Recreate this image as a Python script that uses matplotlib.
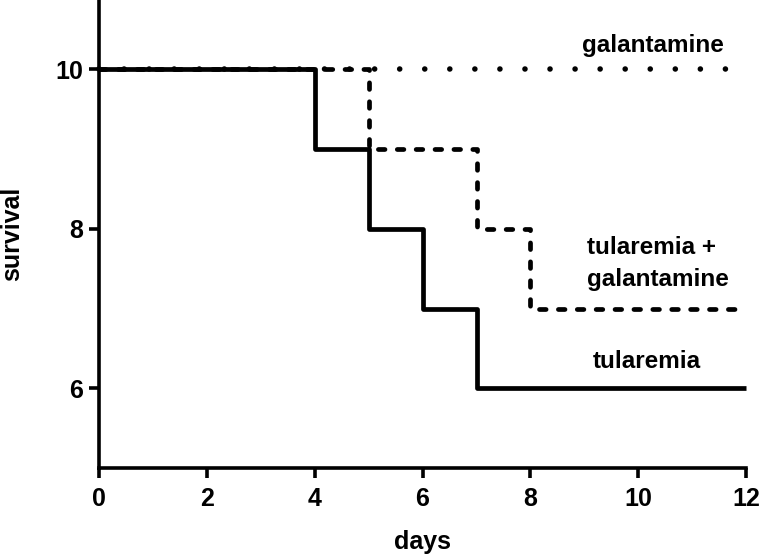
import matplotlib
matplotlib.use("Agg")
import matplotlib.pyplot as plt

plt.rcParams['font.family'] = ['Liberation Sans', 'DejaVu Sans']
plt.rcParams['font.weight'] = 'bold'

# datos de supervivencia (pasos)
tul_days = [0, 4, 5, 6, 7, 12]
tul_surv = [10, 9, 8, 7, 6, 6]

tg_days = [0, 5, 7, 8, 12]
tg_surv = [10, 9, 8, 7, 7]

gal_days = [0, 12]
gal_surv = [10, 10]

x_ticks = [0, 2, 4, 6, 8, 10, 12]
y_ticks = [6, 8, 10]

fig = plt.figure(figsize=(7.6, 5.54), dpi=100)
ax = fig.add_axes([0.130, 0.155, 0.852, 0.845])

lw = 3.4
ax.step(gal_days, gal_surv, where='post', color='black', lw=4.0,
        linestyle=(0, (0.01, 4.5)), dash_capstyle='round', zorder=2, clip_on=False)
ax.step(tg_days, tg_surv, where='post', color='black', lw=lw,
        linestyle=(0, (1.4, 2.6)), dash_capstyle='round', zorder=3, clip_on=False)
ax.step(tul_days, tul_surv, where='post', color='black', lw=lw,
        solid_capstyle='butt', zorder=4, clip_on=False)

# etiquetas de las curvas
ax.text(8.96, 10.30, "galantamine", fontsize=17.5, fontweight='bold', va='center', ha='left')
ax.text(9.05, 7.56, "tularemia +\ngalantamine", fontsize=17.5, fontweight='bold',
        va='center', ha='left', linespacing=1.5)
ax.text(9.15, 6.34, "tularemia", fontsize=17.5, fontweight='bold', va='center', ha='left')

ax.set_xlim(0, 12)
ax.set_ylim(5, 10.87)
ax.set_xticks(x_ticks)
ax.set_yticks(y_ticks)

for s in ['top', 'right']:
    ax.spines[s].set_visible(False)
for s in ['left', 'bottom']:
    ax.spines[s].set_linewidth(2.6)

ax.tick_params(axis='both', direction='out', length=7.5, width=2.6, labelsize=18)
ax.tick_params(axis='x', pad=6)
ax.tick_params(axis='y', pad=4)
for lab in ax.get_xticklabels() + ax.get_yticklabels():
    lab.set_fontweight('bold')

ax.set_xlabel("days", fontsize=18, fontweight='bold', labelpad=14)
ax.set_ylabel("survival", fontsize=18, fontweight='bold', labelpad=22)

fig.savefig("out.png", dpi=100)
